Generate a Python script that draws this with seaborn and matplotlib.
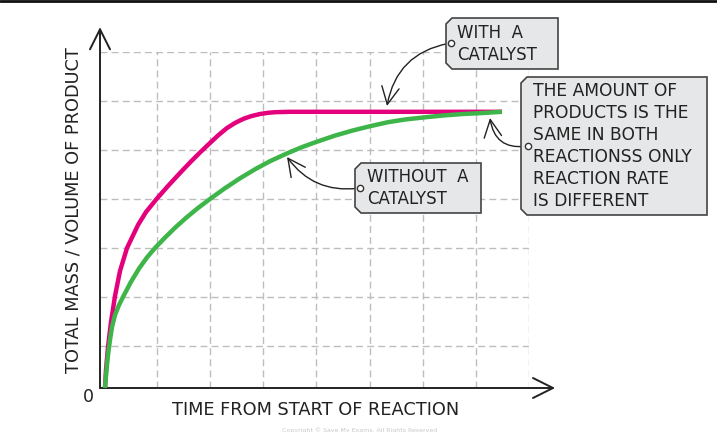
import numpy as np
import pandas as pd
import seaborn as sns
import matplotlib.pyplot as plt
from matplotlib.patches import Polygon

# curve readings (arbitrary time / product units)
cat_t = [5, 6, 8, 11, 15, 20, 27, 38, 46, 57, 68, 80, 90, 100, 110, 118, 127,
         135, 143, 151, 160, 168, 175, 190, 402]
cat_y = [0, 18, 41, 66, 92, 117, 140, 163, 176, 189.5, 202, 215, 225.5, 235.5,
         245, 252.5, 260, 265, 269, 271.8, 274, 275.2, 275.8, 276.2, 276.2]

nocat_t = [5, 6, 7, 8, 10, 12, 15, 19, 23, 31, 39, 47, 55, 65, 75, 86, 98, 110,
           125, 140, 155, 170, 187, 202, 217, 235, 252, 270, 288, 305, 323,
           343, 363, 383, 402]
nocat_y = [0, 12, 23, 33, 48, 61, 73, 83, 91, 106.2, 119.4, 130.6, 140, 150.4,
           160.2, 170.1, 180, 189, 199.8, 209.7, 218.7, 226.8, 234.6, 240.9,
           246.3, 252.4, 257.3, 261.8, 265.8, 268.5, 270.5, 272.5, 274, 275,
           276.2]

x_label = "TIME FROM START OF REACTION"
y_label = "TOTAL MASS / VOLUME OF PRODUCT"
note_with = "WITH  A\nCATALYST"
note_without = "WITHOUT  A\nCATALYST"
note_same = "THE AMOUNT OF\nPRODUCTS IS THE\nSAME IN BOTH\nREACTIONSS ONLY\nREACTION RATE\nIS DIFFERENT"

W, H = 717, 432
sns.set_theme(style="white")
plt.rcParams['font.family'] = ['DejaVu Sans']

fig = plt.figure(figsize=(W / 100, H / 100), dpi=100)
ax = fig.add_axes([100 / W, (H - 388) / H, 429 / W, 336 / H])


def fp(x, y):
    # pixel position -> figure fraction
    return (x / W, 1 - y / H)


df_cat = pd.DataFrame({"t": cat_t, "y": cat_y})
df_nocat = pd.DataFrame({"t": nocat_t, "y": nocat_y})
sns.lineplot(data=df_cat, x="t", y="y", color="#e4007c", lw=3.2, ax=ax,
             sort=False, zorder=3, solid_capstyle="butt", solid_joinstyle="round")
sns.lineplot(data=df_nocat, x="t", y="y", color="#3db549", lw=3.2, ax=ax,
             sort=False, zorder=4, solid_capstyle="butt", solid_joinstyle="round")

ax.set_xlim(0, 429)
ax.set_ylim(0, 336)
ax.set_xticks(57 + 53.14 * np.arange(8))
ax.set_yticks(42 + 49 * np.arange(7))
ax.tick_params(length=0, labelbottom=False, labelleft=False)
ax.grid(True, color="#bdbdbd", lw=1, ls=(0, (5, 3)))
for s in ax.spines.values():
    s.set_visible(False)
ax.set_xlabel("")
ax.set_ylabel("")

# axes with open arrow heads
arrow_kw = dict(arrowstyle="->,head_length=0.8,head_width=0.4", color="#222222",
                lw=1.4, mutation_scale=18, shrinkA=0, shrinkB=0)
ax.annotate("", xy=(0, 1.074), xytext=(0, 0), xycoords="axes fraction",
            arrowprops=arrow_kw, annotation_clip=False)
ax.annotate("", xy=(1.061, 0), xytext=(0, 0), xycoords="axes fraction",
            arrowprops=arrow_kw, annotation_clip=False)

fig.text(*fp(88, 397), "0", fontsize=12.5, ha="center", va="center", color="#222")
fig.text(*fp(316, 410), x_label, fontsize=12.8, ha="center", va="center", color="#222")
fig.text(*fp(74, 210), y_label, fontsize=12.8, ha="center", va="center",
         rotation=90, color="#222")


def note_box(x0, y0, x1, y1, c=6):
    pts = [fp(x0 + c, y0), fp(x1, y0), fp(x1, y1), fp(x0 + c, y1),
           fp(x0, y1 - c), fp(x0, y0 + c)]
    fig.patches.append(Polygon(pts, closed=True, transform=fig.transFigure,
                               facecolor="#e6e7e8", edgecolor="#444444",
                               lw=1.2, zorder=5))


def pointer(start, end, rad):
    fig.add_artist(plt.Line2D([start[0] / W], [1 - start[1] / H], marker="o",
                              ms=4.5, mfc="white", mec="#333", mew=1,
                              transform=fig.transFigure, zorder=7))
    ax.annotate("", xy=fp(*end), xytext=fp(*start), xycoords="figure fraction",
                arrowprops=dict(arrowstyle="->,head_length=0.9,head_width=0.45",
                                color="#222", lw=1, mutation_scale=14,
                                shrinkA=2, shrinkB=0,
                                connectionstyle=f"arc3,rad={rad}"),
                annotation_clip=False, zorder=6)


note_box(446, 18, 558, 69)
fig.text(*fp(457, 44), note_with, fontsize=12, ha="left", va="center",
         color="#222", linespacing=1.3, zorder=6)
pointer((451, 43), (387, 106), 0.35)

note_box(521, 77, 707, 215)
fig.text(*fp(533, 146), note_same, fontsize=12.3, ha="left", va="center",
         color="#222", linespacing=1.3, zorder=6)
pointer((528, 146), (490, 118), -0.5)

note_box(355, 163, 481, 213)
fig.text(*fp(367, 188), note_without, fontsize=12, ha="left", va="center",
         color="#222", linespacing=1.3, zorder=6)
pointer((360, 188), (287, 157), -0.3)

fig.text(*fp(360, 430), "Copyright © Save My Exams. All Rights Reserved",
         fontsize=4.5, ha="center", va="center", color="#c8c8c8")
fig.add_artist(plt.Line2D([0, 1], [1 - 1 / H, 1 - 1 / H], color="#111",
                          lw=2, transform=fig.transFigure))

fig.savefig("out.png", dpi=100)
